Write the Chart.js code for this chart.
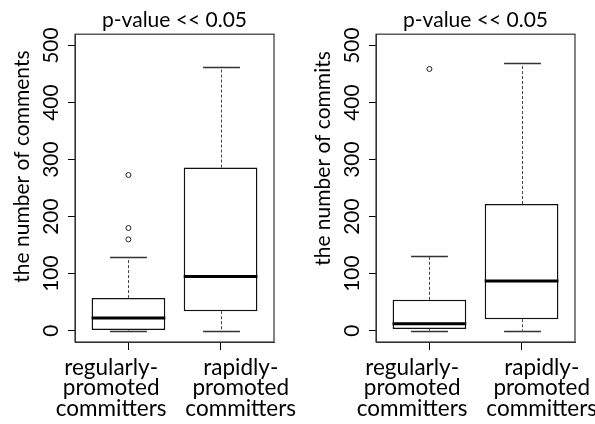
<!DOCTYPE html>
<html>
<head>
<meta charset="utf-8">
<script src="https://cdn.jsdelivr.net/npm/chart.js@4/dist/chart.umd.min.js"></script>
<style>
  body { margin: 0; background: #fff; }
  #left { position: absolute; left: 0; top: 0; }
  #right { position: absolute; left: 301px; top: 0; }
</style>
</head>
<body>
<canvas id="left" width="297" height="424"></canvas>
<canvas id="right" width="294" height="424"></canvas>
<script>
// groups on the x axis
const groups = [
    ['regularly-', 'promoted', 'committers'],
    ['rapidly-', 'promoted', 'committers']
];
const yTicks = [0, 100, 200, 300, 400, 500];

// comments per committer (boxplot stats)
const commentsLow = [0, 0];
const commentsQ1 = [1, 34];
const commentsMedian = [22, 95];
const commentsQ3 = [57, 286];
const commentsHigh = [129, 463];
const commentsOutliers = [[160, 180, 273], []];

// commits per committer (boxplot stats)
const commitsLow = [0, 0];
const commitsQ1 = [3, 20];
const commitsMedian = [12, 87];
const commitsQ3 = [54, 222];
const commitsHigh = [131, 469];
const commitsOutliers = [[459], []];

const FONT = 'Lato, "DejaVu Sans", sans-serif';
const FS = 21;
const NBSP = '\u00a0';

// whiskers + medians + frame, drawn through the chart scales
const boxPlotPlugin = {
    id: 'boxPlot',
    beforeDatasetsDraw(chart) {
        const st = chart.options.plugins.boxPlot;
        const x = chart.scales.x, y = chart.scales.y;
        const ctx = chart.ctx;
        ctx.save();
        for (var i = 0; i < st.median.length; i++) {
            const cx = Math.round(x.getPixelForValue(i + 1)) + 0.5;
            const capHalf = x.getPixelForValue(i + 1.2) - x.getPixelForValue(i + 1);
            // dashed whiskers
            ctx.strokeStyle = '#444';
            ctx.lineWidth = 1;
            ctx.setLineDash([3, 2]);
            ctx.beginPath();
            ctx.moveTo(cx, y.getPixelForValue(st.q3[i]));
            ctx.lineTo(cx, y.getPixelForValue(st.high[i]));
            ctx.moveTo(cx, y.getPixelForValue(st.q1[i]));
            ctx.lineTo(cx, y.getPixelForValue(st.low[i]));
            ctx.stroke();
            // caps
            ctx.setLineDash([]);
            ctx.strokeStyle = '#333';
            ctx.lineWidth = 1.5;
            ctx.beginPath();
            [st.low[i], st.high[i]].forEach(function (v) {
                const py = Math.round(y.getPixelForValue(v)) + 0.5;
                ctx.moveTo(cx - capHalf, py);
                ctx.lineTo(cx + capHalf, py);
            });
            ctx.stroke();
        }
        ctx.restore();
    },
    afterDatasetsDraw(chart) {
        const st = chart.options.plugins.boxPlot;
        const x = chart.scales.x, y = chart.scales.y;
        const ctx = chart.ctx;
        ctx.save();
        ctx.strokeStyle = '#000';
        ctx.lineWidth = 3;
        ctx.beginPath();
        for (var i = 0; i < st.median.length; i++) {
            const left = x.getPixelForValue(i + 0.6);
            const right = x.getPixelForValue(i + 1.4);
            const py = y.getPixelForValue(st.median[i]);
            ctx.moveTo(left, py);
            ctx.lineTo(right, py);
        }
        ctx.stroke();
        // plot frame
        const a = chart.chartArea;
        ctx.strokeStyle = '#333';
        ctx.lineWidth = 1.2;
        ctx.strokeRect(a.left, a.top, a.right - a.left, a.bottom - a.top);
        ctx.restore();
    }
};

// the group names sit a little off their ticks in the original figure
function groupLabel(v) {
    const lines = groups[v - 1];
    if (!lines) return '';
    return lines.map(function (s) {
        return v === 1 ? s + NBSP.repeat(6) : NBSP.repeat(7) + s;
    });
}

function makeBoxChart(canvasId, yTitle, low, q1, median, q3, high, outliers) {
    const canvas = document.getElementById(canvasId);
    const boxes = [];
    const points = [];
    for (var i = 0; i < median.length; i++) {
        boxes.push({ x: i + 1, y: [q1[i], q3[i]] });
        for (var j = 0; j < outliers[i].length; j++) {
            points.push({ x: i + 1, y: outliers[i][j] });
        }
    }
    return new Chart(canvas.getContext('2d'), {
        type: 'bar',
        data: {
            datasets: [{
                label: 'box',
                data: boxes,
                backgroundColor: '#fff',
                borderColor: '#111',
                borderWidth: 1.5,
                borderSkipped: false,
                categoryPercentage: 1,
                barPercentage: 0.8
            }, {
                type: 'scatter',
                label: 'outliers',
                data: points,
                pointStyle: 'circle',
                radius: 2.5,
                backgroundColor: '#fff',
                borderColor: '#222',
                borderWidth: 1
            }]
        },
        options: {
            responsive: false,
            animation: false,
            layout: { padding: { left: 0, right: canvas.width - 274, top: 0, bottom: 0 } },
            plugins: {
                legend: { display: false },
                tooltip: { enabled: false },
                title: {
                    display: true,
                    text: 'p-value << 0.05',
                    fullSize: false,
                    color: '#000',
                    font: { family: FONT, size: FS, weight: 'normal' },
                    padding: { top: 8, bottom: 1 }
                },
                boxPlot: { low: low, q1: q1, median: median, q3: q3, high: high }
            },
            scales: {
                x: {
                    type: 'linear',
                    offset: false,
                    min: 0.42,
                    max: 2.58,
                    afterBuildTicks: function (scale) {
                        scale.ticks = groups.map(function (g, i) { return { value: i + 1 }; });
                    },
                    afterFit: function (scale) {
                        scale.height = 82;
                        // labels may spill past the frame, like in R
                        scale.paddingLeft = 0;
                        scale.paddingRight = 0;
                    },
                    grid: { offset: false, drawOnChartArea: false, drawTicks: true, tickLength: 8, color: '#000' },
                    border: { display: true, color: '#333', width: 1 },
                    ticks: {
                        color: '#000',
                        padding: 7,
                        maxRotation: 0,
                        autoSkip: false,
                        font: { family: FONT, size: 22.5, lineHeight: 0.92 },
                        callback: groupLabel
                    }
                },
                y: {
                    min: -20,
                    max: 520,
                    afterBuildTicks: function (scale) {
                        scale.ticks = yTicks.map(function (v) { return { value: v }; });
                    },
                    afterFit: function (scale) { scale.width = 75; },
                    grid: { drawOnChartArea: false, drawTicks: true, tickLength: 7, color: '#000' },
                    border: { display: true, color: '#333', width: 1 },
                    ticks: {
                        color: '#000',
                        padding: -2,
                        minRotation: 90,
                        maxRotation: 90,
                        crossAlign: 'center',
                        font: { family: FONT, size: FS }
                    },
                    title: {
                        display: true,
                        text: yTitle,
                        color: '#000',
                        font: { family: FONT, size: FS },
                        padding: { top: 10, bottom: 0 }
                    }
                }
            }
        },
        plugins: [boxPlotPlugin]
    });
}

// leading blanks lift the axis titles the way they sit in the original
makeBoxChart('left', NBSP.repeat(8) + 'the number of comments',
    commentsLow, commentsQ1, commentsMedian, commentsQ3, commentsHigh, commentsOutliers);
makeBoxChart('right', NBSP.repeat(11) + 'the number of commits',
    commitsLow, commitsQ1, commitsMedian, commitsQ3, commitsHigh, commitsOutliers);
</script>
</body>
</html>
